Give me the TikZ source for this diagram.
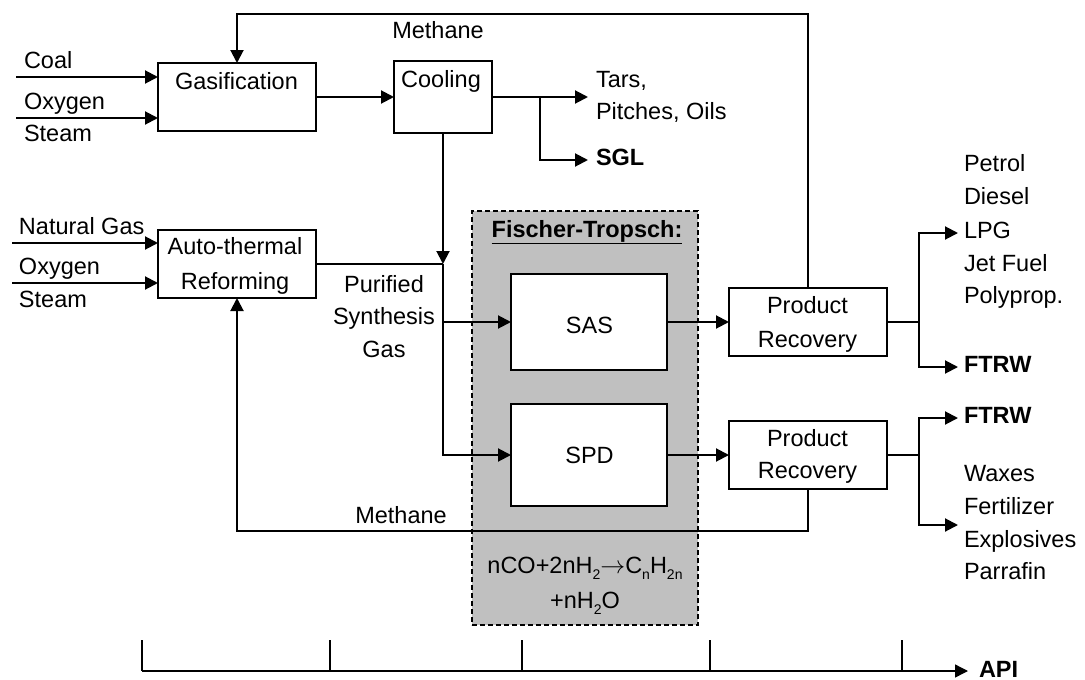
\documentclass[tikz,border=0pt]{standalone}
\usepackage{fontspec}
\setmainfont{Liberation Sans}
\usetikzlibrary{arrows.meta}
\definecolor{ftgray}{RGB}{192,192,192}
\newcommand\sbs[1]{\raisebox{-0.28em}{\fontsize{14}{14}\selectfont #1}}
\begin{document}
\begin{tikzpicture}[x=1pt,y=-1pt, font=\fontsize{23.5}{28}\selectfont, line width=2pt,
  box/.style={draw, fill=white, inner sep=0pt, outer sep=0pt},
  arr/.style={-{Triangle[length=13pt,width=13pt]}},
  tl/.style={inner sep=0pt, anchor=base west},
  tc/.style={inner sep=0pt, anchor=base},
  ftbox/.style={draw, fill=ftgray, inner sep=0pt, outer sep=0pt, line width=1.4pt, dash pattern=on 5pt off 3pt},
]
\useasboundingbox (0,0) rectangle (1085,680);

% Fischer-Tropsch area
\node[ftbox, minimum width=226pt, minimum height=414pt] (ft) at (585,418) {};

% boxes
\node[box, minimum width=158pt, minimum height=68pt] (gas) at (237,97) {};
\node[box, minimum width=98pt, minimum height=72pt] (cool) at (443,97) {};
\node[box, minimum width=158pt, minimum height=68pt] (atr) at (237,264) {};
\node[box, minimum width=156pt, minimum height=96pt] (sas) at (589,322) {};
\node[box, minimum width=156pt, minimum height=102pt] (spd) at (589,455) {};
\node[box, minimum width=158pt, minimum height=68pt] (pr1) at (808,322) {};
\node[box, minimum width=158pt, minimum height=68pt] (pr2) at (808,455) {};

% free ends
\coordinate (coalin) at (16,77);
\coordinate (oxyin) at (16,118);
\coordinate (ngin) at (12,243);
\coordinate (oxyin2) at (12,283);
\coordinate (topc) at (520,14);
\coordinate (botc) at (520,531);
\coordinate (tarsend) at (588,97);
\coordinate (br1) at (540,97);
\coordinate (sglend) at (588,160);
\coordinate (o1) at (958,233);
\coordinate (o2) at (958,367);
\coordinate (o3) at (958,418);
\coordinate (o4) at (958,525);
\coordinate (ax0) at (142,671);
\coordinate (ax1) at (968,671);

% inputs
\draw[arr] (coalin) -- (gas.west |- coalin);
\draw[arr] (oxyin) -- (gas.west |- oxyin);
\draw[arr] (ngin) -- (atr.west |- ngin);
\draw[arr] (oxyin2) -- (atr.west |- oxyin2);

% methane loop top
\draw[arr] (pr1.north) |- (topc) -| (gas.north);
% gasification -> cooling
\draw[arr] (gas.east) -- (cool.west);
% cooling outputs
\draw[arr] (cool.east) -- (tarsend);
\draw[arr] (br1) |- (sglend);
% cooling down to junction
\draw[arr] (cool.south) -- (cool.south |- atr.east);
\draw (atr.east) -- (cool.south |- atr.east);
\draw[arr] (cool.south |- atr.east) |- (spd.west);
\draw[arr] (cool.south |- sas.west) -- (sas.west);
% FT -> product recovery
\draw[arr] (sas.east) -- (pr1.west);
\draw[arr] (spd.east) -- (pr2.west);
% product recovery outputs
\draw (pr1.east) -- ++(32,0) coordinate (b1);
\draw[arr] (b1) |- (o1);
\draw[arr] (b1) |- (o2);
\draw (pr2.east) -- ++(32,0) coordinate (b2);
\draw[arr] (b2) |- (o3);
\draw[arr] (b2) |- (o4);
% methane loop bottom
\draw[arr] (pr2.south) |- (botc) -| (atr.south);

% axis
\draw[arr, line width=1.4pt] (ax0) -- (ax1);
\foreach \xx [count=\i] in {142,330,522,710,902}
  \draw[line width=1.4pt] (\xx,640) coordinate (tk\i) -- (tk\i |- ax0);

% texts
\node[tl] (tcoal) at (23,68) {Coal};
\node[tl] (toxy1) at (23,109) {Oxygen};
\node[tl] (tstm1) at (23,141) {Steam};
\node[tc] (tgas) at (236.5,89) {Gasification};
\node[tc] (tmeth1) at (438,38) {Methane};
\node[tc] (tcool) at (441,87) {Cooling};
\node[tl] (ttars) at (595,87) {Tars,};
\node[tl] (tpitch) at (595,119) {Pitches, Oils};
\node[tl] (tsgl) at (595,165) {\bfseries SGL};
\node[tl] (tng) at (18,234) {Natural Gas};
\node[tl] (toxy2) at (18,274) {Oxygen};
\node[tl] (tstm2) at (18,307) {Steam};
\node[tc] (tatra) at (235,254) {Auto-thermal};
\node[tc] (tatrb) at (235,289) {Reforming};
\node[tc] (tpur) at (384,292) {Purified};
\node[tc] (tsyn) at (384,324) {Synthesis};
\node[tc] (tgasw) at (384,357) {Gas};
\node[tc] (tft) at (587,237) {\bfseries\underline{Fischer-Tropsch:}};
\node[tc] (tsas) at (589.5,333) {SAS};
\node[tc] (tspd) at (589.5,463) {SPD};
\node[tc] (tpr1a) at (807.5,313) {Product};
\node[tc] (tpr1b) at (807.5,347) {Recovery};
\node[tc] (tpr2a) at (807.5,446) {Product};
\node[tc] (tpr2b) at (807.5,478) {Recovery};
\node[tl] (tpet) at (963,171) {Petrol};
\node[tl] (tdie) at (963,204) {Diesel};
\node[tl] (tlpg) at (963,238) {LPG};
\node[tl] (tjet) at (963,271) {Jet Fuel};
\node[tl] (tpoly) at (963,303) {Polyprop.};
\node[tl] (tftrw1) at (963,372) {\bfseries FTRW};
\node[tl] (tftrw2) at (963,423) {\bfseries FTRW};
\node[tl] (twax) at (963,481) {Waxes};
\node[tl] (tfer) at (963,514) {Fertilizer};
\node[tl] (texp) at (963,547) {Explosives};
\node[tl] (tpar) at (963,579) {Parrafin};
\node[tc] (tmeth2) at (401,523) {Methane};
\node[tc] (teq1) at (585,573) {nCO+2nH\sbs{2}$\rightarrow$C\sbs{n}H\sbs{2n}};
\node[tc] (teq2) at (585,608) {+nH\sbs{2}O};
\node[tl] (tapi) at (978,677) {\bfseries API};
\end{tikzpicture}
\end{document}
